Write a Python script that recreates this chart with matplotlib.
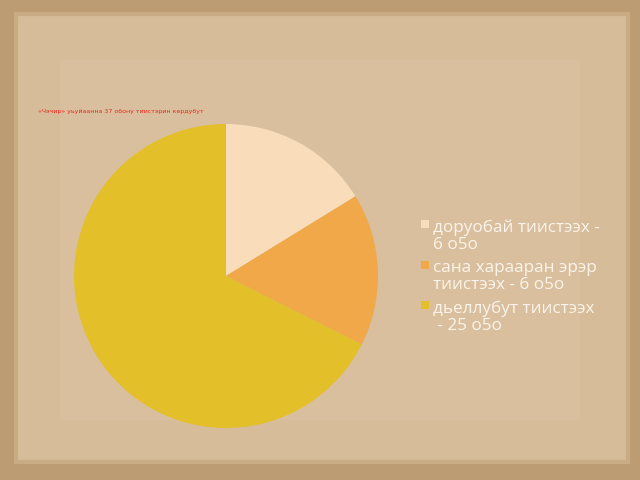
import matplotlib
matplotlib.use("Agg")
import matplotlib.pyplot as plt
from matplotlib.patches import Rectangle

# data
labels = ["доруобай тиистээх -\n6 о5о",
          "сана харааран эрэр\nтиистээх - 6 о5о",
          "дьеллубут тиистээх\n - 25 о5о"]
counts = [6, 6, 25]
colors = ["#F9DDBA", "#F0A848", "#E3BF2A"]
title = "«Чэчир» уьуйаанна 37 обону тиистэрин кердубут"

W, H = 640, 480
fig = plt.figure(figsize=(6.4, 4.8), dpi=100)
fig.patch.set_facecolor("#BC9C72")

# parchment sheet (behind the pie axes)
fig.patches.append(Rectangle((16 / W, 1 - 462 / H), 612 / W, 448 / H,
                             transform=fig.transFigure, facecolor="#D6BC99",
                             edgecolor="#C9AC84", linewidth=3, zorder=-2))
fig.patches.append(Rectangle((60 / W, 1 - 420 / H), 520 / W, 360 / H,
                             transform=fig.transFigure, facecolor="#DCC3A3",
                             edgecolor="none", alpha=0.5, zorder=-1))

# pie
cx, cy, r = 226, 276, 152
ax = fig.add_axes([(cx - r) / W, (H - cy - r) / H, 2 * r / W, 2 * r / H])
ax.pie(counts, colors=colors, startangle=90, counterclock=False,
       wedgeprops=dict(linewidth=0))
ax.set_xlim(-1, 1)
ax.set_ylim(-1, 1)
ax.set_aspect("equal")
ax.axis("off")

fig.text(38 / W, 1 - 111 / H, title, fontsize=4.5, color="#E8281E",
         family=["Liberation Sans Narrow", "DejaVu Sans"], va="center", ha="left")

# legend
ly = 224
for lab, col in zip(labels, colors):
    fig.patches.append(Rectangle((421 / W, 1 - (ly + 4) / H), 8 / W, 8 / H,
                                 transform=fig.transFigure, facecolor=col,
                                 edgecolor="none"))
    fig.text(433 / W, 1 - (ly - 4) / H, lab, fontsize=12.3, color="#FBF4EA",
             family=["Open Sans", "DejaVu Sans"], va="top", ha="left",
             linespacing=1.05)
    ly += 40.5

fig.savefig("out.png", dpi=100, facecolor=fig.get_facecolor())
